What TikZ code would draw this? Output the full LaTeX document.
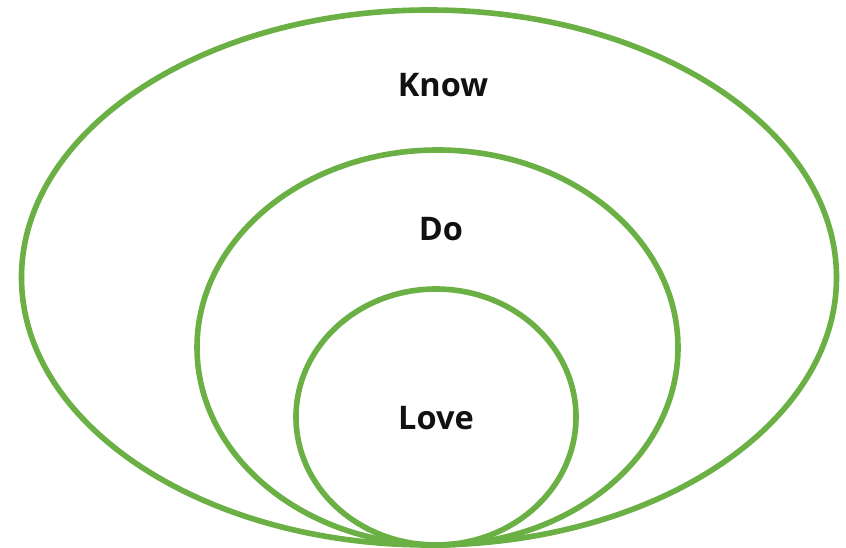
\documentclass[tikz,border=0pt]{standalone}
\usepackage{fontspec}
\setmainfont{Open Sans}
\usetikzlibrary{shapes.geometric}
\definecolor{ringgreen}{HTML}{6BB044}
\definecolor{ink}{HTML}{111111}

\begin{document}
\begin{tikzpicture}[
  x=1pt, y=1pt,
  text=ink,
  ring/.style={
    ellipse,
    draw=ringgreen,
    line width=5.6pt,
    inner sep=0pt
  },
  level label/.style={
    font=\fontsize{32.5}{38}\selectfont\bfseries,
    inner sep=0pt
  }
]
\useasboundingbox (0,0) rectangle (846,548);

% Nested circles, all touching at the bottom
\node[ring, minimum width=815, minimum height=535] (know) at (429,270.5) {};
\node[ring, minimum width=481, minimum height=395] (do) at (437.5,200.5) {};
\node[ring, minimum width=280, minimum height=256] (love) at (436,131) {};

% Labels
\node[level label] (knowlabel) at (443,463) {Know};
\node[level label] (dolabel) at (441,319) {Do};
\node[level label] (lovelabel) at (436,130) {Love};

\end{tikzpicture}
\end{document}
